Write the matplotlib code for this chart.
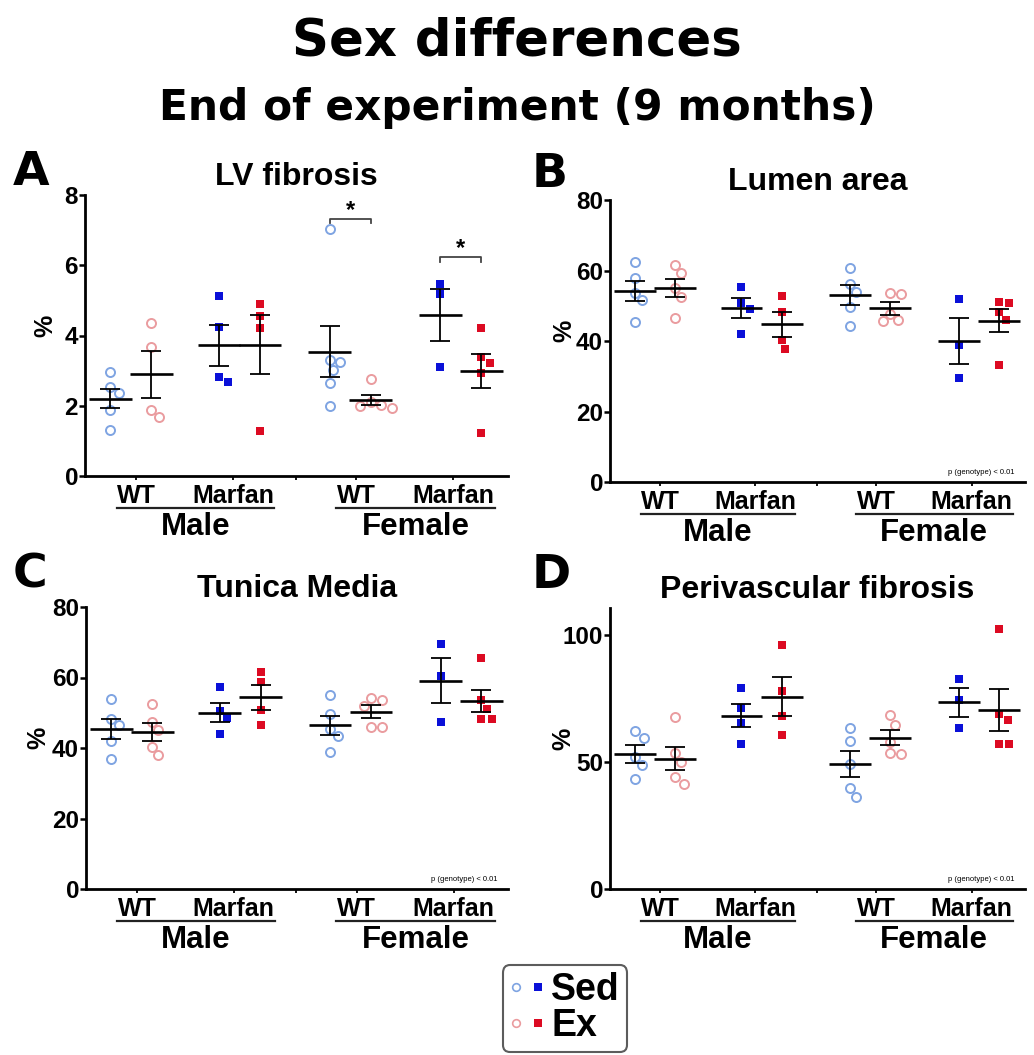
import numpy as np
import matplotlib
matplotlib.use("Agg")
import matplotlib.pyplot as plt
from matplotlib.lines import Line2D
from matplotlib.legend_handler import HandlerTuple

W, H = 1034, 1055

# group order: sex / genotype / activity
GROUPS = ["Male WT Sed", "Male WT Ex", "Male Marfan Sed", "Male Marfan Ex",
          "Female WT Sed", "Female WT Ex", "Female Marfan Sed", "Female Marfan Ex"]
GENOTYPE_LABELS = ["WT", "Marfan", "WT", "Marfan"]
SEX_LABELS = ["Male", "Female"]

lv_fibrosis = [
    [2.97, 2.52, 2.35, 1.88, 1.31],
    [4.35, 3.68, 1.88, 1.67],
    [5.13, 4.25, 2.81, 2.68],
    [4.91, 4.56, 4.20, 1.29],
    [7.02, 3.30, 3.24, 3.02, 2.64, 1.99],
    [2.76, 2.10, 2.02, 1.98, 1.95],
    [5.48, 5.17, 3.11],
    [4.20, 3.38, 3.23, 2.94, 1.23],
]
lumen_area = [
    [62.5, 57.8, 53.5, 51.6, 45.3],
    [61.6, 59.2, 54.9, 52.6, 46.6],
    [55.4, 50.7, 49.2, 41.9],
    [52.7, 48.3, 40.4, 37.6],
    [60.6, 56.3, 54.0, 49.7, 44.3],
    [53.5, 53.3, 47.8, 45.9, 45.7],
    [51.9, 38.8, 29.4],
    [51.0, 50.7, 48.1, 45.9, 33.3],
]
tunica_media = [
    [53.9, 48.3, 46.4, 41.9, 36.8],
    [52.5, 47.3, 45.0, 40.3, 37.9],
    [57.2, 50.4, 48.5, 44.0],
    [61.5, 58.6, 50.9, 46.4],
    [54.9, 49.7, 45.5, 43.3, 38.8],
    [54.1, 53.5, 51.9, 45.9, 45.9],
    [69.5, 60.5, 47.3],
    [65.5, 53.5, 51.1, 48.3, 48.3],
]
perivascular_fibrosis = [
    [62.0, 59.5, 52.0, 49.0, 43.1],
    [67.6, 53.5, 50.0, 44.1, 41.5],
    [79.0, 71.1, 65.4, 57.2],
    [96.0, 77.8, 67.9, 60.7],
    [63.3, 58.1, 49.3, 39.6, 36.3],
    [68.3, 64.6, 57.8, 53.7, 53.3],
    [82.6, 74.5, 63.3],
    [102.2, 68.7, 66.7, 57.2, 57.2],
]

# significant pairs in LV fibrosis: (group a, group b, bracket height)
lv_sig = [(4, 5, 7.33), (6, 7, 6.24)]

POS = [0, 1, 2.65, 3.65, 5.35, 6.35, 8.05, 9.05]
TICK_POS = [0.63, 2.99, 4.52, 6.0, 8.37]
XLIM = (-0.62, 9.7)

SED_OPEN, EX_OPEN = "#7fa4e2", "#ea9c9f"
SED_FILL, EX_FILL = "#0a10d8", "#dc0a22"

TITLE_FONT = ["DejaVu Sans"]
plt.rcParams["font.family"] = ["Liberation Sans", "DejaVu Sans"]
plt.rcParams["font.weight"] = "bold"


def px_rect(left, top, right, bottom):
    return [left / W, 1 - bottom / H, (right - left) / W, (bottom - top) / H]


def swarm(vals, xscale, yscale, d=10.0):
    offs = np.zeros(len(vals))
    placed = []
    cand = [0.0]
    for k in range(1, 20):
        cand += [k * 1.5, -k * 1.5]
    for i in np.argsort(vals)[::-1]:
        y = vals[i] * yscale
        for c in cand:
            if all((c - px) ** 2 + (y - py) ** 2 >= d * d for px, py in placed):
                break
        placed.append((c, y))
        offs[i] = c / xscale
    return offs


def draw_panel(rect, letter, title, data, ylim, yticks, label_x,
               sig=None, ptext=False):
    ax = fig.add_axes(px_rect(*rect))
    wpx = rect[2] - rect[0]
    hpx = rect[3] - rect[1]
    xscale = wpx / (XLIM[1] - XLIM[0])
    yscale = hpx / (ylim[1] - ylim[0])

    for i, vals in enumerate(data):
        vals = np.array(vals)
        sed = i % 2 == 0
        wt = (i // 2) % 2 == 0
        x = POS[i] + swarm(vals, xscale, yscale)
        if wt:
            ax.plot(x, vals, "o", ms=6.5, mfc="none", mew=1.4,
                    mec=SED_OPEN if sed else EX_OPEN, zorder=2, clip_on=False)
        else:
            ax.plot(x, vals, "s", ms=5.7, mew=0,
                    color=SED_FILL if sed else EX_FILL, zorder=2, clip_on=False)
        m = vals.mean()
        sem = vals.std(ddof=1) / np.sqrt(len(vals))
        ax.plot([POS[i] - 0.52, POS[i] + 0.52], [m, m], color="black",
                lw=1.9, zorder=3, solid_capstyle="butt")
        ax.errorbar(POS[i], m, yerr=sem, fmt="none", ecolor="black",
                    elinewidth=1.3, capsize=7.5, capthick=1.3, zorder=3)

    ax.set_xlim(*XLIM)
    ax.set_ylim(*ylim)
    ax.set_yticks(yticks)
    ax.set_xticks(TICK_POS)
    ax.set_xticklabels(["", "", "", "", ""])
    for s in ["top", "right"]:
        ax.spines[s].set_visible(False)
    for s in ["left", "bottom"]:
        ax.spines[s].set_linewidth(2.0)
    ax.tick_params(axis="y", length=4, width=1.8, labelsize=17.5, pad=1)
    ax.tick_params(axis="x", length=3, width=1.3)
    ax.set_ylabel("%", fontsize=18, fontweight="bold")
    ax.yaxis.set_label_coords(label_x, 0.535)

    # genotype labels, underline and sex labels
    lab_pos = [TICK_POS[0], TICK_POS[1], TICK_POS[3], TICK_POS[4]]
    for xp, lab in zip(lab_pos, GENOTYPE_LABELS):
        ax.text(xp, -8 / hpx, lab, transform=ax.get_xaxis_transform(),
                ha="center", va="top", fontsize=18, fontweight="bold")
    for j, sex in enumerate(SEX_LABELS):
        x0, x1 = POS[4 * j] + 0.15, POS[4 * j + 3] + 0.34
        ax.plot([x0, x1], [-32 / hpx] * 2, color="#222222", lw=1.6,
                transform=ax.get_xaxis_transform(), clip_on=False)
        ax.text((x0 + x1) / 2, -36 / hpx, sex, transform=ax.get_xaxis_transform(),
                ha="center", va="top", fontsize=22.5, fontweight="bold")

    ax.set_title(title, fontsize=23, fontweight="bold", pad=7)

    if sig:
        for a, b, yb in sig:
            tick = 0.14
            ax.plot([POS[a], POS[a], POS[b], POS[b]],
                    [yb - tick, yb, yb, yb - tick], color="#444444", lw=1.3)
            ax.text((POS[a] + POS[b]) / 2, yb - 0.1, "*", ha="center",
                    va="bottom", fontsize=17, fontweight="bold")
    if ptext:
        ax.text(0.975, 0.02, "p (genotype) < 0.01", transform=ax.transAxes,
                ha="right", va="bottom", fontsize=5.5, fontweight="normal")

    fig.text(letter[1] / W, 1 - letter[2] / H, letter[0], family=TITLE_FONT,
             fontsize=34, fontweight="bold", ha="left", va="baseline")
    return ax


fig = plt.figure(figsize=(W / 100, H / 100), dpi=100)

fig.text(0.5, 1 - 56 / H, "Sex differences", family=TITLE_FONT,
         fontsize=37, fontweight="bold", ha="center", va="baseline")
fig.text(0.5, 1 - 120 / H, "End of experiment (9 months)", family=TITLE_FONT,
         fontsize=30.5, fontweight="bold", ha="center", va="baseline")

draw_panel((85, 195, 508, 476), ("A", 13, 185), "LV fibrosis", lv_fibrosis,
           (0, 8), [0, 2, 4, 6, 8], -0.065, sig=lv_sig)
draw_panel((610, 200, 1025, 482), ("B", 532, 187), "Lumen area", lumen_area,
           (0, 80), [0, 20, 40, 60, 80], -0.08, ptext=True)
draw_panel((86, 607, 508, 889), ("C", 13, 587), "Tunica Media", tunica_media,
           (0, 80), [0, 20, 40, 60, 80], -0.085, ptext=True)
draw_panel((610, 608, 1025, 889), ("D", 532, 588), "Perivascular fibrosis",
           perivascular_fibrosis, (0, 110.6), [0, 50, 100], -0.084, ptext=True)

handles = [
    (Line2D([], [], marker="o", ls="none", ms=5.5, mfc="none", mec=SED_OPEN, mew=1.2),
     Line2D([], [], marker="s", ls="none", ms=5.5, color=SED_FILL, mew=0)),
    (Line2D([], [], marker="o", ls="none", ms=5.5, mfc="none", mec=EX_OPEN, mew=1.2),
     Line2D([], [], marker="s", ls="none", ms=5.5, color=EX_FILL, mew=0)),
]
leg = fig.legend(handles, ["Sed", "Ex"], handler_map={tuple: HandlerTuple(ndivide=None, pad=0.25)},
                 loc="lower center", bbox_to_anchor=(565 / W, 3 / H),
                 prop={"size": 27, "weight": "bold"}, frameon=True, fancybox=True,
                 edgecolor="#333333", handlelength=0.9, handletextpad=0.2,
                 labelspacing=0.0, borderpad=0.2, borderaxespad=0)
leg.get_frame().set_linewidth(1.5)

fig.savefig("out.png", dpi=100)
